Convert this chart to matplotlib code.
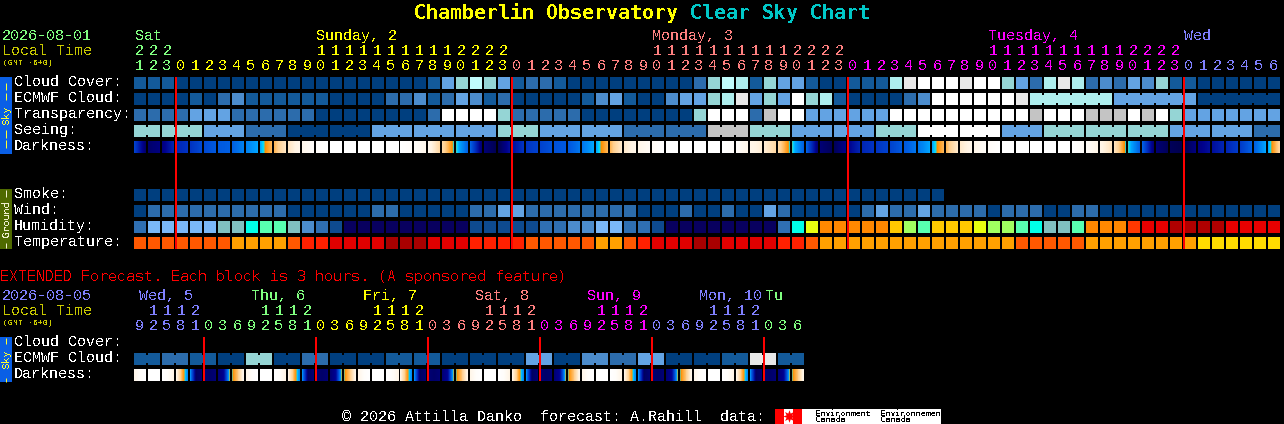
import numpy as np
import matplotlib
matplotlib.use("Agg")
import matplotlib.pyplot as plt
from matplotlib.colors import LinearSegmentedColormap
from matplotlib.patches import Rectangle

plt.rcParams['font.family'] = ['Liberation Mono', 'DejaVu Sans Mono']
plt.rcParams['text.antialiased'] = False
plt.rcParams['text.hinting'] = 'native'
plt.rcParams['text.hinting_factor'] = 1

# ---- sky palette level -> colour
sky_colors = ['#003f7f', '#135a9a', '#2c6cac', '#4c8ccc', '#63a3e3', '#95d5d5',
              '#aeeeee', '#c0fcfc', '#e8e8e8', '#ffffff', '#c4c4c4']
hum_colors = {'n': '#08005f', 'b': '#0e4a8f', 'c': '#2f6fb2', 'd': '#4c8ccc', 'l': '#7ab8f8',
              't': '#80c0c0', 'y': '#00ffe8', 'm': '#58ffb0', 'g': '#a0ff60', 'L': '#e8ff10',
              'G': '#ffc800', 'o': '#ff8800', 'R': '#ff3800', 'r': '#e80000', 'D': '#b00000'}
tmp_colors = {'O': '#ff5800', 'A': '#ffa000', 'R': '#ff2000', 'r': '#e00000', 'd': '#a80000', 'Y': '#ffdc00'}

# ---- main forecast (hourly columns)
cloud_cover = [1,1,1,0,0,0,0,0,0,0,0,0,0,0,0,0,0,0,0,0,0,1,
               4,5,7,5,4,1,2,2,1,0,0,0,0,0,0,0,0,0,2,5,7,6,1,5,4,4,1,0,0,1,
               1,1,6,8,9,9,9,8,9,9,5,4,2,6,8,6,2,3,2,4,3,5,1,1,0,0,0,0,0,0]
ecmwf_cloud = [0,0,0,0,1,0,2,3,1,1,1,1,1,1,0,0,0,0,2,2,3,1,
               2,4,3,1,2,0,0,0,0,0,1,3,4,1,0,0,3,4,4,5,6,8,4,5,4,9,5,6,1,0,
               0,0,0,2,3,9,9,9,9,9,9,8,6,6,6,6,6,6,4,4,4,4,4,4,0,0,0,0,0,0]
ecmwf_groups = [1]*64 + [6, 6, 6]
transparency = [2,2,2,2,4,4,4,2,2,2,2,2,2,0,0,0,0,0,0,0,0,2,
                9,9,9,9,5,2,2,2,2,2,0,0,0,0,0,0,0,0,5,9,9,9,2,10,9,9,4,4,4,4,
                4,4,9,9,9,9,9,9,9,9,9,9,10,9,9,9,10,10,10,9,10,9,5,4,4,4,4,4,4,4]
seeing = [5,5,5,5,5,4,4,4,2,2,2,0,0,0,0,0,0,4,4,4,4,4,4,4,4,4,5,5,5,4,4,4,4,4,4,2,2,2,2,2,2,
          10,10,10,5,5,5,4,4,4,4,4,4,5,5,5,9,9,9,9,9,9,4,4,4,5,5,5,5,5,5,5,5,5,4,4,4,4,4,4,2,2]
seeing_groups = [2] + [3]*26 + [2]
darkness = [.30,.06,.10,.22,.26,.32,.36,.38,.44,.50,.63,.78,.89,.97,1,1,1,1,1,1,.97,.90,.72,.54,.38,.08,
            .02,.16,.26,.30,.34,.36,.42,.50,.63,.80,.88,.95,1,1,1,1,1,.97,.88,.82,.72,.54,.38,.08,.03,.12,
            .22,.26,.30,.36,.42,.50,.63,.80,.88,.96,1,1,1,1,1,1,.96,.87,.77,.54,.38,.08,.03,.01,.10,.16,
            .22,.28,.38,.50,.70]
smoke = [0]*58
wind = [0,2,2,2,2,2,2,2,2,2,2,0,0,0,0,0,0,2,2,0,0,0,0,0,2,2,4,4,2,2,2,2,2,2,2,2,0,0,0,2,0,0,2,0,0,4,2,0,0,0,0,0,
        2,4,2,2,4,2,2,2,2,0,2,2,2,0,0,2,2,0,0,0,0,0,0,0,0,0,0,0,0,0]
humidity = list("clllllttymmtdcbnnnnnnn" "nnbbbbbccddllccbnnnnnnnncyLooo"
                "ooGgmGGGLggmyttmoooRrrDDDDrrrr")
temperature = list("OOOOOOOAAAAORRrrrrdddr" "rrRRRROOOOOAAORrrrddrrrrRROAAA"
                   "AAAAAAAAAAAOOOOOAAAAAAAAYYYYYY")
hour_labels = [(21 + i) % 24 for i in range(82)]
hour_colors = ['#80ff80']*3 + ['#ffff00']*24 + ['#ff8080']*24 + ['#ff00ff']*24 + ['#8080ff']*7
main_midnights = [3, 27, 51, 75]
main_rows_sky = ["Cloud Cover:", "ECMWF Cloud:", "Transparency:", "Seeing:", "Darkness:"]
main_rows_ground = ["Smoke:", "Wind:", "Humidity:", "Temperature:"]
main_days = [("Sat", 135, '#80ff80'), ("Sunday, 2", 316, '#ffff00'), ("Monday, 3", 652, '#ff8080'),
             ("Tuesday, 4", 988, '#ff00ff'), ("Wed", 1184, '#8080ff')]

# ---- extended forecast (3-hour columns)
ext_ecmwf = [1,1,2,2,1,1,0,0,5,5,0,0,2,2,0,0,0,0,1,1,1,1,0,0,0,0,0,0,4,4,0,0,3,3,2,2,4,4,0,0,0,0,1,1,8,8,1,1]
ext_groups = [2]*24
# two readings per cell (cell start, cell middle), plus the closing edge
ext_darkness = [.88,.97,1,1,1,.97,.86,.62,.46,.04,.08,.06,.08,.14,.55,.66,
                .88,.97,1,1,1,.97,.86,.62,.46,.04,.08,.06,.08,.14,.55,.66,
                .88,.97,1,1,1,.97,.86,.62,.46,.04,.08,.06,.08,.14,.55,.66,
                .88,.97,1,1,1,.97,.86,.62,.46,.04,.08,.06,.08,.14,.55,.66,
                .88,.97,1,1,1,.97,.86,.62,.46,.04,.08,.06,.08,.14,.55,.66,
                .88,.97,1,1,1,.97,.86,.62,.46,.04,.08,.06,.08,.14,.55,.66,.88]
ext_hours = [9,12,15,18,21,0,3,6]*6
ext_colors = ['#8080ff']*5 + ['#80ff80']*8 + ['#ffff00']*8 + ['#ff8080']*8 + ['#ff00ff']*8 + ['#8080ff']*8 + ['#80ff80']*3
ext_midnights = [5, 13, 21, 29, 37, 45]
ext_days = [("Wed, 5", 139, '#8080ff'), ("Thu, 6", 251, '#80ff80'), ("Fri, 7", 363, '#ffff00'),
            ("Sat, 8", 475, '#ff8080'), ("Sun, 9", 587, '#ff00ff'), ("Mon, 10", 699, '#8080ff'),
            ("Tu", 765, '#80ff80')]

for series in (cloud_cover, ecmwf_cloud, transparency, seeing, wind, humidity, temperature, hour_labels):
    assert len(series) == 82, len(series)
assert len(darkness) == 83, len(darkness)
assert len(ext_darkness) == 97 and len(ext_ecmwf) == 48

W, H = 1284, 424
X0, Y0, DX, DY = 134, 77, 14, 16
fig = plt.figure(figsize=(W/100, H/100), dpi=100, facecolor='black')

pxa = fig.add_axes([0, 0, 1, 1], facecolor='black')
pxa.set_xlim(0, W); pxa.set_ylim(H, 0); pxa.axis('off')
grid = fig.add_axes([0, 0, 1, 1], facecolor='none')
grid.axis('off')

dark_cmap = LinearSegmentedColormap.from_list('dark', [
    (0.00, '#00004a'), (0.12, '#00008c'), (0.25, '#0030c0'), (0.38, '#0060e4'), (0.50, '#00a4ff'),
    (0.535, '#00e0ff'), (0.56, '#ff9000'), (0.68, '#ffd090'), (0.85, '#fff4e4'), (1.00, '#ffffff')])

CW, CH = 12/DX, 12/DY

def draw_row(values, row, colors, groups=None):
    cols = np.arange(len(values))
    grid.bar(cols, CH, width=CW, bottom=row, align='edge', color=colors, linewidth=0)
    if groups:
        start = 0
        for n in groups:
            if n > 1:
                links = np.arange(start, start + n - 1)
                grid.bar(links + CW, 8/DY, width=1 - CW, bottom=row + 2/DY, align='edge',
                         color=[colors[i] for i in links], linewidth=0)
            start += n

def draw_dark(knots, row, per_cell=1):
    n = (len(knots) - 1) // per_cell
    for i in range(n):
        seg = knots[i*per_cell:(i + 1)*per_cell + 1]
        pos = np.linspace(0, 11, len(seg))
        grad = np.interp(np.arange(12), pos, seg)[None, :]
        grid.imshow(grad, cmap=dark_cmap, vmin=0, vmax=1, aspect='auto', interpolation='nearest',
                    extent=(i, i + CW, row + CH, row))

sky = lambda vals: [sky_colors[v] for v in vals]
draw_row(cloud_cover, 0, sky(cloud_cover))
draw_row(ecmwf_cloud, 1, sky(ecmwf_cloud), ecmwf_groups)
draw_row(transparency, 2, sky(transparency))
draw_row(seeing, 3, sky(seeing), seeing_groups)
draw_dark(darkness, 4)
draw_row(smoke, 7, sky(smoke))
draw_row(wind, 8, sky(wind))
draw_row(humidity, 9, [hum_colors[v] for v in humidity])
draw_row(temperature, 10, [tmp_colors[v] for v in temperature])
EXT = (337 - Y0) / DY
draw_row(ext_ecmwf, EXT + 1, sky(ext_ecmwf), ext_groups)
draw_dark(ext_darkness, EXT + 2, per_cell=2)
grid.vlines(main_midnights, 0, 11 - 4/DY, colors='#ff0000', linewidth=1.44, capstyle='butt')
grid.vlines(ext_midnights, EXT, EXT + 3 - 4/DY, colors='#ff0000', linewidth=1.44, capstyle='butt')
grid.set_xlim(-X0/DX, (W - X0)/DX)
grid.set_ylim((H - Y0)/DY, -Y0/DY)

FS = 10.8
def T(x, y, s, c='white', size=FS, **kw):
    kw.setdefault('ha', 'left')
    kw.setdefault('va', 'baseline')
    pxa.text(x, y, s, color=c, fontsize=size, **kw)

# title
T(414, 19, "Chamberlin Observatory", '#ffff00', 14.4, fontweight='bold', family='DejaVu Sans Mono')
T(690, 19, "Clear Sky Chart", '#00c8c8', 14.4, fontweight='bold', family='DejaVu Sans Mono')

# main header
T(2, 40, "2026-08-01", '#80ff80')
T(2, 55, "Local Time", '#c8c800')
T(3, 65, "(GMT -6+0)", '#c8c800', 5.8)
for name, x, c in main_days:
    T(x, 40, name, c)
for i, (h, c) in enumerate(zip(hour_labels, hour_colors)):
    cx = X0 + DX*i + 5
    if h >= 10:
        T(cx, 55, str(h // 10), c, ha='center')
    T(cx, 70, str(h % 10), c, ha='center')

for i, s in enumerate(main_rows_sky):
    T(14, 86 + DY*i, s)
for i, s in enumerate(main_rows_ground):
    T(14, 198 + DY*i, s)

# side bars
def side(y0, y1, fc, s, tc, dashes):
    pxa.add_patch(Rectangle((0, y0), 12, y1 - y0, fc=fc, lw=0))
    T(6, (y0 + y1)/2, s, tc, 7.4, rotation=90, ha='center', va='center',
      family='DejaVu Sans Mono')
    for a, b in dashes:
        pxa.plot([5.5, 5.5], [a, b], color=tc, lw=0.72, solid_capstyle='butt')
side(77, 154, '#0a5fe6', "Sky", '#ffff30', [(83, 90), (93, 100), (130, 138), (140, 148)])
side(189, 249, '#4f6a00', "Ground", '#f0f0d0', [(190, 197), (243, 248)])
side(337, 382, '#0a5fe6', "Sky", '#ffff30', [(338, 344), (378, 382)])

# extended
T(0, 281, "EXTENDED Forecast. Each block is 3 hours. (A sponsored feature)", '#ff0000', 10.75,
  family='DejaVu Sans Mono')
T(2, 300, "2026-08-05", '#8080ff')
T(2, 315, "Local Time", '#c8c800')
T(3, 325, "(GMT -6+0)", '#c8c800', 5.8)
for name, x, c in ext_days:
    T(x, 300, name, c)
for i, (h, c) in enumerate(zip(ext_hours, ext_colors)):
    cx = X0 + DX*i + 5
    if h >= 10:
        T(cx, 315, str(h // 10), c, ha='center')
    T(cx, 330, str(h % 10), c, ha='center')
for i, s in enumerate(["Cloud Cover:", "ECMWF Cloud:", "Darkness:"]):
    T(14, 346 + DY*i, s)

# footer
T(342, 421, "© 2026 Attilla Danko  forecast: A.Rahill  data:")
pxa.add_patch(Rectangle((775, 409), 166, 15, fc='white', lw=0))
pxa.add_patch(Rectangle((775, 409), 9, 15, fc='#ff0000', lw=0))
pxa.add_patch(Rectangle((793, 409), 9, 15, fc='#ff0000', lw=0))
pxa.plot([788.5], [416], marker=(8, 1), ms=9, color='#ff0000', mew=0)
for x, s in [(815, "Environment"), (880, "Environnement")]:
    T(x, 413, s, 'black', 5.6, va='center', family='DejaVu Sans Mono')
    T(x, 420, "Canada", 'black', 5.6, va='center', family='DejaVu Sans Mono')

fig.savefig('out.png', dpi=100, facecolor='black')
